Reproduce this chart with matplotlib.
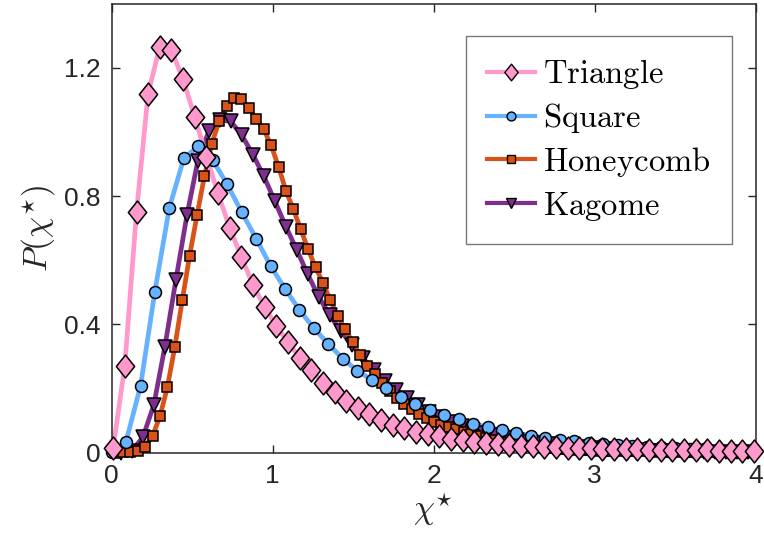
import matplotlib
matplotlib.use("Agg")
import matplotlib.pyplot as plt
from matplotlib.path import Path

plt.rcParams['mathtext.fontset'] = 'cm'

# ---- data: distribution of the rescaled susceptibility for each lattice ----
tri_x = [0.010, 0.082, 0.155, 0.227, 0.299, 0.372, 0.444, 0.517, 0.589, 0.661,
         0.734, 0.806, 0.878, 0.951, 1.023, 1.095, 1.168, 1.240, 1.312, 1.385,
         1.457, 1.530, 1.602, 1.674, 1.747, 1.819, 1.891, 1.964, 2.036, 2.108,
         2.181, 2.253, 2.326, 2.398, 2.470, 2.543, 2.615, 2.687, 2.760, 2.832,
         2.904, 2.977, 3.049, 3.121, 3.194, 3.266, 3.338, 3.411, 3.483, 3.555,
         3.628, 3.700, 3.773, 3.845, 3.917, 3.990]
tri_y = [0.015, 0.270, 0.750, 1.120, 1.265, 1.255, 1.165, 1.047, 0.923, 0.809,
         0.701, 0.611, 0.524, 0.455, 0.396, 0.345, 0.297, 0.257, 0.219, 0.190,
         0.162, 0.140, 0.120, 0.101, 0.088, 0.076, 0.066, 0.060, 0.051, 0.044,
         0.039, 0.035, 0.030, 0.026, 0.023, 0.021, 0.020, 0.019, 0.018, 0.016,
         0.015, 0.014, 0.013, 0.012, 0.012, 0.011, 0.010, 0.010, 0.009, 0.009,
         0.008, 0.008, 0.007, 0.007, 0.006, 0.006]

sq_x = [0.000, 0.090, 0.180, 0.269, 0.359, 0.449, 0.539, 0.629, 0.718, 0.808,
        0.898, 0.988, 1.078, 1.167, 1.257, 1.347, 1.437, 1.527, 1.616, 1.706,
        1.796, 1.886, 1.976, 2.065, 2.155, 2.245, 2.335, 2.425, 2.514, 2.604,
        2.694, 2.784, 2.874, 2.963, 3.053, 3.143, 3.233, 3.323, 3.412, 3.502,
        3.592, 3.682, 3.772, 3.861, 3.951]
sq_y = [0.003, 0.035, 0.208, 0.502, 0.764, 0.918, 0.956, 0.912, 0.837, 0.751,
        0.668, 0.582, 0.511, 0.445, 0.388, 0.339, 0.293, 0.256, 0.227, 0.201,
        0.175, 0.153, 0.133, 0.118, 0.104, 0.090, 0.079, 0.070, 0.062, 0.053,
        0.046, 0.041, 0.036, 0.031, 0.028, 0.024, 0.021, 0.019, 0.017, 0.014,
        0.012, 0.011, 0.009, 0.007, 0.006]

hc_x = [0.025, 0.071, 0.117, 0.163, 0.209, 0.255, 0.301, 0.347, 0.393, 0.439,
        0.485, 0.531, 0.577, 0.623, 0.669, 0.715, 0.761, 0.807, 0.853, 0.899,
        0.945, 0.991, 1.037, 1.083, 1.129, 1.175, 1.221, 1.267, 1.313, 1.359,
        1.405, 1.451, 1.497, 1.543, 1.589, 1.635, 1.681, 1.727, 1.773, 1.819,
        1.865, 1.911, 1.957, 2.003, 2.049, 2.095, 2.141, 2.187, 2.233, 2.279,
        2.325, 2.371, 2.417, 2.463, 2.509, 2.555, 2.601, 2.647, 2.693, 2.739,
        2.785, 2.831, 2.877, 2.923, 2.969, 3.015, 3.061, 3.107, 3.153, 3.199,
        3.245, 3.291, 3.337, 3.383, 3.429, 3.475, 3.521, 3.567, 3.613, 3.659,
        3.705, 3.751, 3.797, 3.843, 3.889, 3.935, 3.981]
hc_y = [0.000, 0.001, 0.003, 0.007, 0.019, 0.053, 0.114, 0.205, 0.330, 0.475,
        0.615, 0.741, 0.863, 0.964, 1.035, 1.080, 1.105, 1.102, 1.074, 1.042,
        1.008, 0.959, 0.892, 0.817, 0.759, 0.697, 0.634, 0.578, 0.530, 0.475,
        0.426, 0.385, 0.345, 0.305, 0.272, 0.245, 0.218, 0.193, 0.171, 0.152,
        0.136, 0.121, 0.108, 0.097, 0.088, 0.080, 0.073, 0.065, 0.058, 0.051,
        0.045, 0.040, 0.035, 0.031, 0.027, 0.024, 0.021, 0.018, 0.016, 0.014,
        0.012, 0.011, 0.010, 0.009, 0.008, 0.007, 0.006, 0.006, 0.005, 0.005,
        0.004, 0.004, 0.004, 0.003, 0.003, 0.003, 0.003, 0.002, 0.002, 0.002,
        0.002, 0.002, 0.001, 0.001, 0.001, 0.001, 0.001]

kg_x = [0.058, 0.126, 0.195, 0.263, 0.331, 0.400, 0.468, 0.536, 0.604, 0.673,
        0.741, 0.809, 0.878, 0.946, 1.014, 1.083, 1.151, 1.219, 1.287, 1.356,
        1.424, 1.492, 1.561, 1.629, 1.697, 1.766, 1.834, 1.902, 1.970, 2.039,
        2.107, 2.175, 2.244, 2.312, 2.380, 2.449, 2.517, 2.585, 2.653, 2.722,
        2.790, 2.858, 2.927, 2.995, 3.063, 3.132, 3.200, 3.268, 3.336, 3.405,
        3.473, 3.541, 3.610, 3.678, 3.746, 3.815, 3.883, 3.951]
kg_y = [0.000, 0.006, 0.049, 0.150, 0.330, 0.540, 0.740, 0.910, 1.002, 1.038,
        1.033, 0.990, 0.930, 0.862, 0.785, 0.705, 0.632, 0.556, 0.486, 0.428,
        0.380, 0.336, 0.295, 0.258, 0.225, 0.196, 0.170, 0.148, 0.128, 0.111,
        0.096, 0.083, 0.072, 0.062, 0.054, 0.047, 0.041, 0.035, 0.030, 0.026,
        0.022, 0.019, 0.017, 0.014, 0.012, 0.011, 0.009, 0.008, 0.007, 0.006,
        0.005, 0.004, 0.004, 0.003, 0.003, 0.002, 0.002, 0.002]

labels = ["Triangle", "Square", "Honeycomb", "Kagome"]
colors = ["#ff99cc", "#66b2ff", "#d95319", "#7e2f8e"]

x_ticks = [0, 1, 2, 3, 4]
y_ticks = [0, 0.4, 0.8, 1.2]
y_tick_labels = ["0", "0.4", "0.8", "1.2"]

# slim diamond, slightly taller than wide
diamond = Path([(0, 1), (0.80, 0), (0, -1), (-0.80, 0), (0, 1)],
               [Path.MOVETO, Path.LINETO, Path.LINETO, Path.LINETO, Path.CLOSEPOLY])

series = [
    (tri_x, tri_y, diamond, 16.5),
    (sq_x, sq_y, "o", 8.6),
    (hc_x, hc_y, "s", 7.6),
    (kg_x, kg_y, "v", 9.6),
]
legend_ms = [12.0, 6.4, 6.0, 7.4]

fig = plt.figure(figsize=(7.64, 5.39), dpi=100)
ax = fig.add_axes([0.146, 0.160, 0.843, 0.833])

draw_order = [3, 2, 1, 0]
handles = {}
for i in draw_order:
    xs, ys, mk, ms = series[i]
    ax.plot(xs, ys, color=colors[i], lw=3.4, solid_capstyle="round",
            solid_joinstyle="round", zorder=2 + 0.1 * (3 - i))
for i in draw_order:
    xs, ys, mk, ms = series[i]
    ax.plot(xs, ys, ls="none", marker=mk, ms=ms, mfc=colors[i], mec="black",
            mew=1.1, zorder=3 + 0.1 * (3 - i), clip_on=False)
    handles[i] = plt.Line2D([], [], color=colors[i], lw=3.0, marker=mk,
                            ms=legend_ms[i], mfc=colors[i], mec="black", mew=1.0)

ax.set_xlim(0, 4)
ax.set_ylim(0, 1.4)
ax.set_xticks(x_ticks)
ax.set_yticks(y_ticks)
ax.set_yticklabels(y_tick_labels)

tick_font = ["Liberation Sans Narrow", "Liberation Sans", "DejaVu Sans"]
for lab in ax.get_xticklabels() + ax.get_yticklabels():
    lab.set_family(tick_font)
    lab.set_fontsize(19)
    lab.set_color("#262626")

ax.tick_params(direction="in", length=6, width=1.0, colors="#262626",
               top=True, right=True, pad=8)
for sp in ax.spines.values():
    sp.set_color("#262626")
    sp.set_linewidth(1.1)

ax.set_xlabel(r"$\chi^{\star}$", fontsize=24, color="#262626", labelpad=2)
ax.set_ylabel(r"$P(\chi^{\star})$", fontsize=24, color="#262626", labelpad=4)

leg = ax.legend([handles[i] for i in range(4)],
                [r"$\mathrm{%s}$" % s for s in labels],
                loc="upper right", bbox_to_anchor=(0.963, 0.928),
                borderaxespad=0, fontsize=23.5, frameon=True, fancybox=False,
                handlelength=1.45, handletextpad=0.25, labelspacing=0.3,
                borderpad=0.65)
leg.get_frame().set_edgecolor("#555555")
leg.get_frame().set_linewidth(1.0)
leg.set_zorder(10)

fig.savefig("out.png", dpi=100)
